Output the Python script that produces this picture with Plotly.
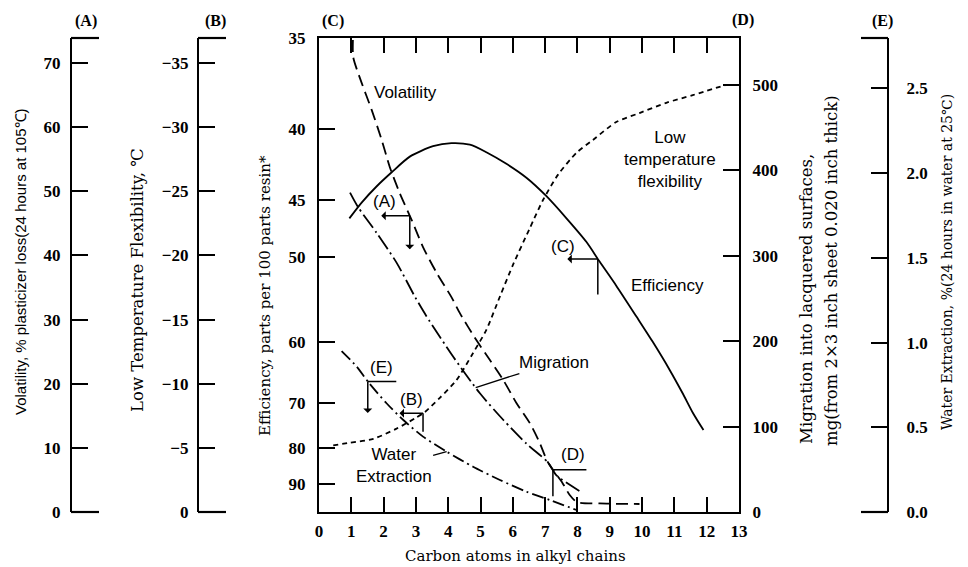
import numpy as np
import plotly.graph_objects as go

W, H = 968, 567

# ---------------- data ----------------
carbon_ticks = list(range(0, 14))

volatility_x = [1.05, 1.06, 1.32, 1.63, 1.94, 2.19, 2.50, 2.87, 3.22, 3.64, 4.10, 4.36,
                4.87, 5.29, 5.70, 6.11, 6.52, 6.83, 7.08, 7.54, 7.76, 7.98, 8.69, 9.92]
volatility_pct = [73.6, 70.9, 66.9, 62.7, 58.0, 53.8, 49.7, 45.5, 41.3, 37.3, 33.5, 31.0,
                  26.8, 23.7, 20.6, 17.0, 13.9, 10.8, 7.8, 4.5, 2.65, 1.56, 1.33, 1.25]

flex_x = [0.44, 0.96, 1.68, 2.40, 2.97, 3.28, 3.74, 4.26, 4.77, 5.18, 5.60, 6.01,
          6.52, 6.93, 7.40, 7.97, 8.48, 9.20, 9.92, 10.75, 11.57, 12.60]
flex_c = [-5.2, -5.4, -5.7, -6.5, -7.3, -7.8, -8.9, -10.3, -12.4, -14.2, -16.8, -19.3,
          -22.1, -24.3, -26.3, -28.0, -29.0, -30.4, -31.1, -31.9, -32.5, -33.3]

eff_x = [0.94, 1.32, 1.78, 2.25, 2.81, 3.53, 4.10, 4.67, 5.18, 5.80, 6.42, 7.04,
         7.66, 8.28, 8.69, 9.20, 9.82, 10.33, 10.85, 11.26, 11.57, 11.90]
eff_phr = [46.5, 45.2, 43.95, 42.9, 41.8, 41.1, 40.9, 41.0, 41.5, 42.3, 43.3, 44.7,
           46.5, 48.6, 50.5, 53.0, 56.6, 60.0, 64.2, 68.3, 72.0, 75.7]

mig_x = [0.96, 1.21, 1.78, 2.40, 2.97, 3.33, 4.15, 4.98, 5.70, 6.42, 7.09, 7.35, 8.13]
mig_mg = [374, 357, 327, 292, 252, 229, 182, 139, 108, 80, 58, 43, 23]

water_x = [0.70, 1.17, 1.52, 2.09, 2.61, 3.22, 3.95, 4.77, 5.60, 6.42, 7.14, 7.97]
water_pct = [0.95, 0.858, 0.768, 0.642, 0.543, 0.445, 0.356, 0.267, 0.189, 0.120, 0.071, 0.012]

A_ticks = [0, 10, 20, 30, 40, 50, 60, 70]
B_ticks = [0, -5, -10, -15, -20, -25, -30, -35]
C_ticks = [35, 40, 45, 50, 60, 70, 80, 90]
D_ticks = [0, 100, 200, 300, 400, 500]
E_ticks = [0.0, 0.5, 1.0, 1.5, 2.0, 2.5]

# efficiency axis is a reciprocal scale (100 / parts per 100 resin)
def eff_scale(v):
    return 100.0 / np.asarray(v, dtype=float)

# ---------------- layout geometry ----------------
def px(xp):
    return xp / W

def py(yp):
    return 1 - yp / H

X_DOM = [px(319), px(739)]
Y_DOM = [py(512), py(38)]
POS_A, POS_B, POS_E = px(71), px(198), px(888)

SERIF = "Liberation Serif"
WSERIF = "DejaVu Serif"
SANS = "Liberation Sans"
BLACK = "black"
tick_font = dict(family=SERIF, size=17, color=BLACK, weight="bold")

fig = go.Figure()

def add_line(x, y, yaxis, dash, name):
    fig.add_trace(go.Scatter(x=x, y=y, xaxis="x", yaxis=yaxis, mode="lines", name=name,
                             line=dict(color=BLACK, width=1.8, dash=dash, shape="spline",
                                       smoothing=0.7),
                             showlegend=False, hoverinfo="skip"))

add_line(volatility_x, volatility_pct, "y2", "12px,6px", "Volatility")
add_line(flex_x, flex_c, "y3", "5px,4px", "Low temperature flexibility")
add_line(eff_x, eff_scale(eff_phr), "y", "solid", "Efficiency")
add_line(mig_x, mig_mg, "y4", "16px,4px,2px,4px", "Migration")
add_line(water_x, water_pct, "y5", "12px,4px,2px,4px", "Water Extraction")

common_y = dict(showgrid=False, zeroline=False, showline=True, linecolor=BLACK, linewidth=2.2,
                ticks="inside", ticklen=16, tickwidth=2, tickcolor=BLACK, tickfont=tick_font,
                automargin=False, fixedrange=True)

fig.update_layout(
    width=W, height=H, template="none",
    margin=dict(l=0, r=0, t=0, b=0, pad=0),
    paper_bgcolor="white", plot_bgcolor="white",
    xaxis=dict(domain=X_DOM, range=[0, 13], tickvals=carbon_ticks, anchor="y",
               showgrid=False, zeroline=False, showline=True, mirror="ticks",
               linecolor=BLACK, linewidth=2.2, ticks="inside", ticklen=15, tickwidth=2,
               tickcolor=BLACK, tickfont=tick_font, ticklabelstandoff=2,
               automargin=False, fixedrange=True),
    yaxis=dict(domain=Y_DOM, range=[1.0, 100 / 35], anchor="x", side="left",
               tickvals=list(eff_scale(C_ticks)), ticktext=[str(v) for v in C_ticks],
               ticklabelstandoff=8, **common_y),
    yaxis2=dict(overlaying="y", anchor="free", position=POS_A, side="left",
                range=[0, 73.9], tickvals=A_ticks, ticklabelstandoff=6, **common_y),
    yaxis3=dict(overlaying="y", anchor="free", position=POS_B, side="left",
                range=[0, -36.95], tickvals=B_ticks, ticklabelstandoff=5, **common_y),
    yaxis4=dict(overlaying="y", anchor="x", side="right",
                range=[0, 555], tickvals=D_ticks, ticklabelstandoff=8, **common_y),
    yaxis5=dict(overlaying="y", anchor="free", position=POS_E, side="right",
                range=[0, 2.798], tickvals=E_ticks, ticktext=[f"{v:.1f}" for v in E_ticks],
                ticklabelstandoff=14, **common_y),
)

# end caps of the stand-alone scales
caps = [(POS_A, POS_A + px(28)), (POS_B, POS_B + px(28)), (POS_E - px(27), POS_E)]
for x0, x1 in caps:
    for yy in Y_DOM:
        fig.add_shape(type="line", xref="paper", yref="paper", x0=x0, x1=x1, y0=yy, y1=yy,
                      line=dict(color=BLACK, width=2.2))

ann = []

def text(x, y, s, font_family=SERIF, size=16, angle=0, weight="normal"):
    ann.append(dict(xref="paper", yref="paper", x=px(x), y=py(y), text=s, showarrow=False,
                    textangle=angle, xanchor="center", yanchor="middle",
                    font=dict(family=font_family, size=size, color=BLACK, weight=weight)))

# scale headers
for lab, x, y in [("(A)", 86, 21), ("(B)", 215, 21), ("(C)", 333, 21), ("(D)", 743, 20), ("(E)", 882, 21)]:
    text(x, y, lab, SERIF, 16, weight="bold")

# axis titles
text(20, 262, "Volatility, % plasticizer loss(24 hours at 105\u2103)", SANS, 15, -90)
text(137, 280, "Low Temperature Flexibility, \u2103", WSERIF, 16.5, -90)
text(265, 296, "Efficiency, parts per 100 parts resin*", WSERIF, 15, -90)
text(806, 299, "Migration into lacquered surfaces,", WSERIF, 16.5, -90)
text(831, 271, "mg(from 2\u00d73 inch sheet 0.020 inch thick)", WSERIF, 16.5, -90)
text(947, 262, "Water Extraction, %(24 hours in water at 25\u2103)", WSERIF, 14, -90)
text(515, 556, "Carbon atoms in alkyl chains", WSERIF, 15)

# curve labels
text(405, 92, "Volatility", SANS, 17)
text(670, 159, "Low<br>temperature<br>flexibility", SANS, 17)
text(667, 285, "Efficiency", SANS, 17)

lab_font = dict(family=SANS, size=17, color=BLACK)

# leader-line labels
mx = 4.85
ann.append(dict(x=mx, y=float(np.interp(mx, mig_x, mig_mg)), xref="x", yref="y4",
                text="Migration", showarrow=True, arrowhead=0, arrowwidth=1.3,
                arrowcolor=BLACK, ax=78, ay=-25, font=lab_font))
wx = 3.95
ann.append(dict(x=wx, y=float(np.interp(wx, water_x, water_pct)), xref="x", yref="y5",
                text="Water<br>Extraction", showarrow=True, arrowhead=0, arrowwidth=1.3,
                arrowcolor=BLACK, ax=-53, ay=14, font=lab_font))

# scale pointers (A)...(E), anchored on their curves
pointers = [
    ("(A)", "y2", 2.81, float(np.interp(2.81, volatility_x, volatility_pct)), -30, 35, True, True, (-25, 14)),
    ("(B)", "y3", 3.22, float(np.interp(3.22, flex_x, flex_c)), -25, 20, True, False, (-12, 14)),
    ("(C)", "y", 8.63, float(eff_scale(np.interp(8.63, eff_x, eff_phr))), -32, 37, True, False, (-35, 13)),
    ("(D)", "y4", 7.24, float(np.interp(7.24, mig_x, mig_mg)), 35, 28, False, False, (20, 15)),
    ("(E)", "y5", 1.51, float(np.interp(1.51, water_x, water_pct)), 30, 33, False, True, (14, 14)),
]
for lab, yref, x, y, hlen, vlen, hhead, vhead, (sx, sy) in pointers:
    ann.append(dict(x=x, y=y, xref="x", yref=yref, text="", showarrow=True,
                    ax=hlen, ay=0, arrowside="start" if hhead else "none",
                    arrowhead=2, arrowsize=1, arrowwidth=1.5, arrowcolor=BLACK))
    ann.append(dict(x=x, y=y, xref="x", yref=yref, text="", showarrow=True,
                    ax=0, ay=vlen, arrowside="start" if vhead else "none",
                    arrowhead=2, arrowsize=1, arrowwidth=1.5, arrowcolor=BLACK))
    ann.append(dict(x=x, y=y, xref="x", yref=yref, text=lab, showarrow=False,
                    xshift=sx, yshift=sy, font=lab_font))

fig.update_layout(annotations=ann)

fig.write_html("out.html", config={"displayModeBar": False},
               post_script="document.body.style.margin='0px';document.body.style.overflow='hidden';")
